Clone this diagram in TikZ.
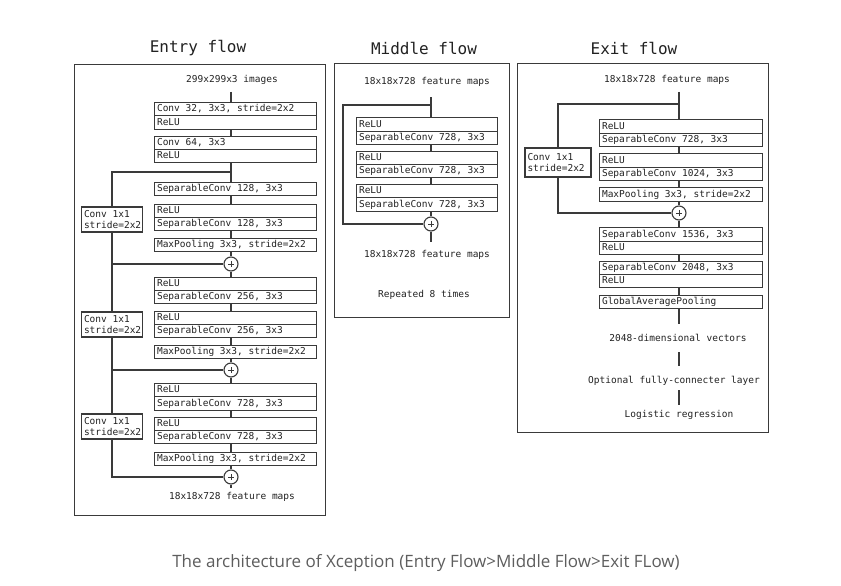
\documentclass[tikz,border=0pt]{standalone}
\usepackage{fontspec}
\setmonofont{DejaVu Sans Mono}
\newfontfamily\capfont{Open Sans}
\definecolor{linec}{HTML}{3A3A3A}
\definecolor{txtc}{HTML}{222222}
\definecolor{capc}{HTML}{5E5E5E}
\begin{document}
\begin{tikzpicture}[x=1pt,y=-1pt,
  ln/.style={draw=linec, line width=1.1pt},
  frame/.style={draw=linec, line width=0.9pt},
  boxfont/.style={font=\ttfamily\fontsize{9.5}{11}\selectfont, text=txtc},
  row/.style={boxfont, draw=linec, line width=1.1pt, anchor=north west, inner xsep=2.5pt, inner ysep=0pt,
    align=flush left, minimum height=13.3pt, text height=6.8pt, text depth=1.8pt},
  erow/.style={row, text width=157pt},
  mrow/.style={row, text width=136pt},
  xrow/.style={row, text width=158pt},
  convbox/.style={boxfont, draw=linec, line width=1.1pt, align=flush left, inner xsep=2.5pt, inner ysep=1pt,
    text width=#1, minimum height=25pt},
  lbl/.style={boxfont},
  title/.style={font=\ttfamily\fontsize{16}{18}\selectfont, text=txtc},
  plus/.style={circle, draw=linec, line width=1.1pt, minimum size=14pt, inner sep=0pt,
    path picture={\draw[linec, line width=0.7pt]
      ([xshift=-2.8pt]path picture bounding box.center) -- ([xshift=2.8pt]path picture bounding box.center)
      ([yshift=-2.8pt]path picture bounding box.center) -- ([yshift=2.8pt]path picture bounding box.center);}}
]
\useasboundingbox[fill=white] (0,0) rectangle (841,586);

% ================= Entry flow =================
\node[title] (tentry) at (198,48) {Entry flow};
\draw[frame] (74,64) rectangle (325,515);
\node[lbl] (eimg) at (232,80) {299x299x3 images};
\coordinate (es) at (231,0);
\coordinate (et) at (231,92);

\node[erow] (e1a) at (154,102) {Conv 32, 3x3, stride=2x2};
\node[erow] (e1b) at (154,115.3) {ReLU};
\node[erow] (e2a) at (154,135.5) {Conv 64, 3x3};
\node[erow] (e2b) at (154,148.8) {ReLU};
\node[erow] (e3) at (154,182) {SeparableConv 128, 3x3};
\node[erow] (e4a) at (154,203.5) {ReLU};
\node[erow] (e4b) at (154,216.8) {SeparableConv 128, 3x3};
\node[erow] (e5) at (154,238) {MaxPooling 3x3, stride=2x2};
\node[plus] (ep1) at (231,264) {};
\node[erow] (e6a) at (154,276.7) {ReLU};
\node[erow] (e6b) at (154,290) {SeparableConv 256, 3x3};
\node[erow] (e7a) at (154,310.7) {ReLU};
\node[erow] (e7b) at (154,324) {SeparableConv 256, 3x3};
\node[erow] (e8) at (154,345) {MaxPooling 3x3, stride=2x2};
\node[plus] (ep2) at (231,370) {};
\node[erow] (e9a) at (154,383) {ReLU};
\node[erow] (e9b) at (154,396.3) {SeparableConv 728, 3x3};
\node[erow] (e10a) at (154,416.5) {ReLU};
\node[erow] (e10b) at (154,429.8) {SeparableConv 728, 3x3};
\node[erow] (e11) at (154,451.5) {MaxPooling 3x3, stride=2x2};
\node[plus] (ep3) at (231,477) {};
\coordinate (eend) at (231,488);
\node[lbl] (eout) at (232,497) {18x18x728 feature maps};

\node[convbox=56pt] (ec1) at (112,219.5) {Conv 1x1\\stride=2x2};
\node[convbox=56pt] (ec2) at (112,324.5) {Conv 1x1\\stride=2x2};
\node[convbox=56pt] (ec3) at (112,426.5) {Conv 1x1\\stride=2x2};
\coordinate (eb0) at (112,172);

\draw[ln] (et) -- (e1a.north -| es);
\draw[ln] (e1b.south -| es) -- (e2a.north -| es);
\draw[ln] (e2b.south -| es) -- (e3.north -| es);
\draw[ln] (e3.south -| es) -- (e4a.north -| es);
\draw[ln] (e4b.south -| es) -- (e5.north -| es);
\draw[ln] (e5.south -| es) -- (ep1.north);
\draw[ln] (ep1.south) -- (e6a.north -| es);
\draw[ln] (e6b.south -| es) -- (e7a.north -| es);
\draw[ln] (e7b.south -| es) -- (e8.north -| es);
\draw[ln] (e8.south -| es) -- (ep2.north);
\draw[ln] (ep2.south) -- (e9a.north -| es);
\draw[ln] (e9b.south -| es) -- (e10a.north -| es);
\draw[ln] (e10b.south -| es) -- (e11.north -| es);
\draw[ln] (e11.south -| es) -- (ep3.north);
\draw[ln] (ep3.south) -- (eend);

\draw[ln] (eb0 -| es) -- (eb0) -- (ec1.north);
\draw[ln] (ec1.south) -- (ec1.south |- ep1) -- (ep1.west);
\draw[ln] (ec1.south |- ep1) -- (ec2.north);
\draw[ln] (ec2.south) -- (ec2.south |- ep2) -- (ep2.west);
\draw[ln] (ec2.south |- ep2) -- (ec3.north);
\draw[ln] (ec3.south) -- (ec3.south |- ep3) -- (ep3.west);

% ================= Middle flow =================
\node[title] (tmid) at (424,48) {Middle flow};
\draw[frame] (334,63) rectangle (509,317);
\node[lbl] (min) at (427,82) {18x18x728 feature maps};
\coordinate (ms) at (431,0);
\coordinate (mt) at (431,97);
\coordinate (mb) at (343,105);
\node[mrow] (m1a) at (356,117.3) {ReLU};
\node[mrow] (m1b) at (356,130.6) {SeparableConv 728, 3x3};
\node[mrow] (m2a) at (356,150.7) {ReLU};
\node[mrow] (m2b) at (356,164) {SeparableConv 728, 3x3};
\node[mrow] (m3a) at (356,184) {ReLU};
\node[mrow] (m3b) at (356,197.3) {SeparableConv 728, 3x3};
\node[plus] (mp) at (431,224) {};
\coordinate (mend) at (431,242);
\node[lbl] (mout) at (427,255) {18x18x728 feature maps};
\node[lbl] (mrep) at (424,295) {Repeated 8 times};

\draw[ln] (mt) -- (m1a.north -| ms);
\draw[ln] (m1b.south -| ms) -- (m2a.north -| ms);
\draw[ln] (m2b.south -| ms) -- (m3a.north -| ms);
\draw[ln] (m3b.south -| ms) -- (mp.north);
\draw[ln] (mp.south) -- (mend);
\draw[ln] (mb -| ms) -- (mb) -- (mb |- mp) -- (mp.west);

% ================= Exit flow =================
\node[title] (texit) at (634,48) {Exit flow};
\draw[frame] (517,63) rectangle (768,432);
\node[lbl] (xin) at (667,80) {18x18x728 feature maps};
\coordinate (xs) at (679,0);
\coordinate (xt) at (679,92);
\coordinate (xb) at (558,104);
\node[xrow] (x1a) at (599,119.3) {ReLU};
\node[xrow] (x1b) at (599,132.6) {SeparableConv 728, 3x3};
\node[xrow] (x2a) at (599,153.3) {ReLU};
\node[xrow] (x2b) at (599,166.6) {SeparableConv 1024, 3x3};
\node[xrow] (x3) at (599,187.3) {MaxPooling 3x3, stride=2x2};
\node[plus] (xp) at (679,213) {};
\node[xrow] (x4a) at (599,227.3) {SeparableConv 1536, 3x3};
\node[xrow] (x4b) at (599,240.6) {ReLU};
\node[xrow] (x5a) at (599,260.7) {SeparableConv 2048, 3x3};
\node[xrow] (x5b) at (599,274) {ReLU};
\node[xrow] (x6) at (599,295) {GlobalAveragePooling};
\node[convbox=61pt, minimum height=29pt] (xc) at (558,162.5) {Conv 1x1\\stride=2x2};
\coordinate (xg) at (679,324);
\node[lbl] (xvec) at (678,338) {2048-dimensional vectors};
\coordinate (xl1a) at (679,352);
\coordinate (xl1b) at (679,366);
\node[lbl] (xfc) at (674,381) {Optional fully-connecter layer};
\coordinate (xl2a) at (679,390);
\coordinate (xl2b) at (679,405);
\node[lbl] (xlog) at (679,415) {Logistic regression};

\draw[ln] (xt) -- (x1a.north -| xs);
\draw[ln] (x1b.south -| xs) -- (x2a.north -| xs);
\draw[ln] (x2b.south -| xs) -- (x3.north -| xs);
\draw[ln] (x3.south -| xs) -- (xp.north);
\draw[ln] (xp.south) -- (x4a.north -| xs);
\draw[ln] (x4b.south -| xs) -- (x5a.north -| xs);
\draw[ln] (x5b.south -| xs) -- (x6.north -| xs);
\draw[ln] (x6.south -| xs) -- (xg);
\draw[ln] (xl1a) -- (xl1b);
\draw[ln] (xl2a) -- (xl2b);
\draw[ln] (xb -| xs) -- (xb) -- (xc.north);
\draw[ln] (xc.south) -- (xc.south |- xp) -- (xp.west);

% ================= Caption =================
\node[font=\capfont\fontsize{17}{19}\selectfont, text=capc] (cap) at (426,563)
  {The architecture of Xception (Entry Flow>Middle Flow>Exit FLow)};
\end{tikzpicture}
\end{document}
